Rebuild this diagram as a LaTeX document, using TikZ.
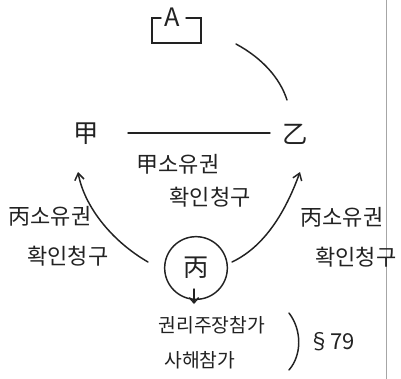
\documentclass[tikz,border=0pt]{standalone}
\usepackage{fontspec}
\newfontfamily\kr{Noto Sans CJK KR}
\usetikzlibrary{arrows.meta}
\definecolor{ink}{HTML}{222222}
\tikzset{
  ink/.style={draw=ink, line width=1.1pt, line cap=round},
  lbl/.style={font=\kr\fontsize{16.5}{18}\selectfont, text=ink, inner sep=0pt},
  big/.style={font=\kr\fontsize{19}{20}\selectfont, text=ink, inner sep=0pt},
  small/.style={font=\kr\fontsize{14.5}{16}\selectfont, text=ink, inner sep=0pt},
  arr/.style={ink, -{Straight Barb[length=5pt,width=7pt]}}
}
\begin{document}
\begin{tikzpicture}[x=0.75pt,y=-0.75pt]
\useasboundingbox (0,0) rectangle (401,379);
\fill[white] (0,0) rectangle (401,379);
% page edge
\draw[draw=black!35, line width=0.8pt] (386.5,0) -- (386.5,379);
% [A] box
\node[font=\kr\fontsize{19}{20}\selectfont, text=ink, inner sep=0pt] (A) at (172,17) {A};
\coordinate (bl) at (161,18);
\coordinate (br) at (186,18);
\draw[ink] (bl) -- (152,18) -- (152,43) -- (201,43) -- (201,18) -- (br);
% parties
\node[big] (gap) at (86,134) {甲};
\node[big] (eul) at (295,134) {乙};
\node[draw=ink, line width=1.1pt, circle, inner sep=0pt, minimum width=47pt] (byeong) at (196,268) {};
\node[big] (byeongt) at (196,268) {丙};
% connectors
\coordinate (lineL) at (128,133);
\coordinate (lineR) at (270,133);
\draw[ink] (lineL) -- (lineR);
\coordinate (arcS) at (236,44);
\coordinate (arcE) at (287,100);
\draw[ink] (arcS) .. controls (262,58) and (280,78) .. (arcE);
\coordinate (lS) at (148,262);
\coordinate (lE) at (78,172);
\draw[arr] (lS) .. controls (110,240) and (84,205) .. (lE);
\coordinate (rS) at (232,262);
\coordinate (rE) at (300,172);
\draw[arr] (rS) .. controls (268,245) and (288,205) .. (rE);
\coordinate (dS) at (194,289);
\coordinate (dE) at (194,304);
\draw[ink, -{Straight Barb[length=4pt,width=7pt]}] (dS) -- (dE);
% labels
\node[lbl] (t1) at (178,164) {甲소유권};
\node[lbl] (t2) at (210,197) {확인청구};
\node[lbl] (t3) at (50,216) {丙소유권};
\node[lbl] (t4) at (68,256) {확인청구};
\node[lbl] (t5) at (342,217) {丙소유권};
\node[lbl] (t6) at (356,257) {확인청구};
\node[small] (t7) at (212,325) {권리주장참가};
\node[small] (t8) at (200,360) {사해참가};
\coordinate (pT) at (289,313);
\coordinate (pB) at (289,370);
\draw[ink] (pT) .. controls (302,330) and (302,355) .. (pB);
\node[lbl] (sec) at (332,342) {§79};
\end{tikzpicture}
\end{document}
